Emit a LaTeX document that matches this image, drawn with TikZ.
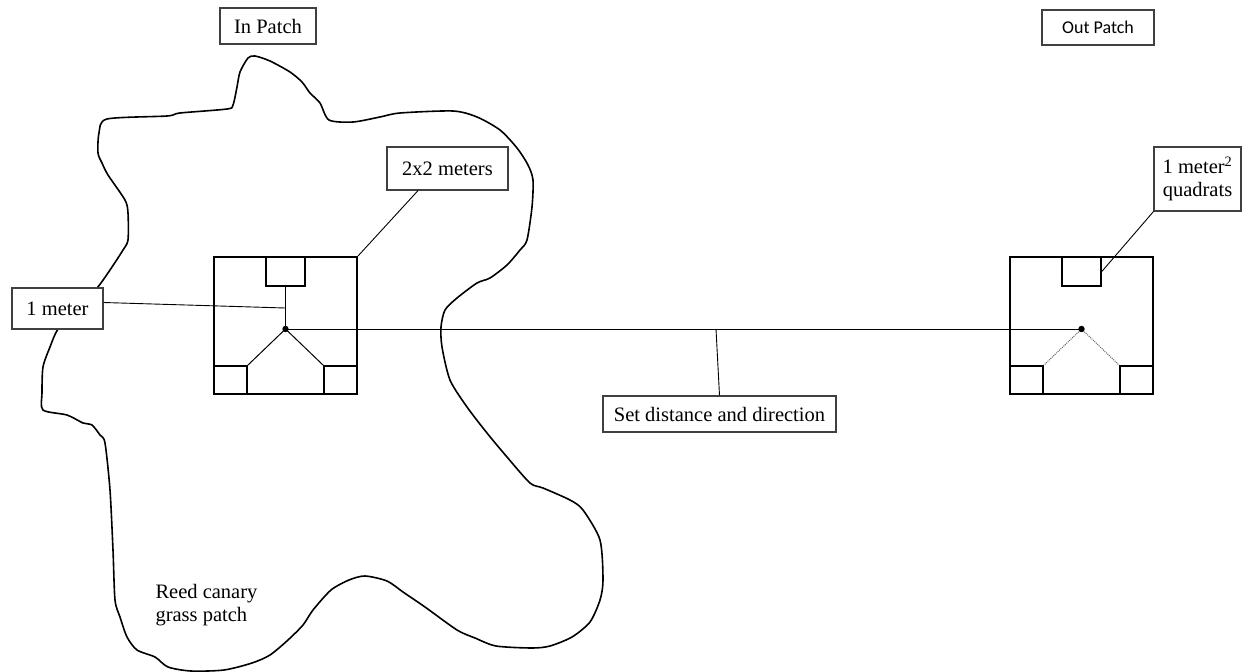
\documentclass[tikz,border=0pt]{standalone}
\usepackage{fontspec}
\setmainfont{Liberation Serif}
\newfontfamily\calibri{Carlito}
\usetikzlibrary{positioning}
\usetikzlibrary{calc}

\begin{document}
\begin{tikzpicture}[x=1pt,y=-1pt,font=\fontsize{20.5}{23}\selectfont,
  labelbox/.style={draw=black!75,line width=1.2pt,fill=white,inner sep=0pt},
  plotsq/.style={draw,line width=2pt,inner sep=0pt,minimum width=143pt,minimum height=137pt},
  quad/.style={draw,line width=1.8pt,inner sep=0pt,minimum width=33pt,minimum height=28pt},
  topquad/.style={quad,minimum width=39pt,minimum height=29pt},
  leader/.style={line width=0.9pt},
  spoke/.style={line width=1pt}]
\useasboundingbox (0,0) rectangle (1253,672);

\draw[line width=1.6pt] plot[smooth cycle,tension=0.45] coordinates {
  (107,119) (167,116) (180,113) (227,109) (233,105) (237,87) (240,72) (248,58) (255,56)
  (270,61) (290,72) (302,82) (310,93) (320,103) (329,120) (353,122) (380,117) (400,113)
  (453,111) (477,117) (500,130) (517,148) (528,165) (533,180) (532,207) (527,240)
  (520,250) (507,265) (490,278) (477,283) (457,298) (445,310) (441,327) (442,347)
  (450,380) (467,407) (487,433) (507,457) (530,483) (543,488) (570,500) (583,510)
  (600,540) (603,580) (600,600) (590,622) (572,637) (550,646) (532,648) (496,646)
  (475,638) (457,630) (425,607) (403,592) (387,581) (365,576) (349,580) (331,590)
  (313,610) (303,625) (288,640) (270,655) (252,663) (224,670) (191,671) (168,667)
  (155,657) (137,650) (127,637) (120,617) (115,600) (113,550) (110,490) (105,443)
  (100,435) (92,425) (83,423) (67,415) (43,410) (42,393) (43,367) (50,347) (58,329)
  (78,305) (97,288) (112,267) (123,250) (128,240) (128,213) (125,200) (108,175)
  (102,163) (98,153) (99,133)};

\node[plotsq] (insq) at (285.5,325.5) {};
\node[topquad,below=0pt of insq.north] (inq1) {};
\node[quad,above right=0pt of insq.south west] (inq2) {};
\node[quad,above left=0pt of insq.south east] (inq3) {};
\coordinate (inc) at (285.5,329);
\coordinate (stem) at (285.5,308);

\node[plotsq] (outsq) at (1081.5,325.5) {};
\node[topquad,below=0pt of outsq.north] (outq1) {};
\node[quad,above right=0pt of outsq.south west] (outq2) {};
\node[quad,above left=0pt of outsq.south east] (outq3) {};
\coordinate (outc) at (1081.5,329);
\coordinate (mid) at (716,329);

\draw[spoke] (inq1.south) -- (inc);
\draw[spoke] (inc) -- (inq2.north east);
\draw[spoke] (inc) -- (inq3.north west);
\draw[spoke,densely dotted,black!60] (outc) -- (outq2.north east);
\draw[spoke,densely dotted,black!60] (outc) -- (outq3.north west);
\draw[leader] (inc) -- (outc);
\fill (inc) circle (3.2pt);
\fill (outc) circle (3.2pt);

\node[labelbox,minimum width=96pt,minimum height=36pt] (inpatch) at (268,26) {In Patch};
\node[labelbox,font=\calibri\fontsize{18}{21}\selectfont,minimum width=112pt,minimum height=35pt] (outpatch) at (1098,27.5) {Out Patch};
\node[labelbox,minimum width=121pt,minimum height=43pt] (twobytwo) at (447.5,168.5) {2x2 meters};
\node[labelbox,minimum width=91pt,minimum height=41pt] (onemeter) at (57.5,308.5) {1 meter};
\node[labelbox,minimum width=87pt,minimum height=64pt,align=center] (quadrats) at (1197.5,179) {1 meter\textsuperscript{2}\\quadrats};
\node[labelbox,minimum width=233pt,minimum height=36pt] (setdist) at (719.5,414) {Set distance and direction};
\node[align=left,anchor=west] (reed) at (152,605) {Reed canary\\grass patch};

\draw[leader] ([yshift=6pt]onemeter.east) -- (stem);
\draw[leader] ([xshift=-29.5pt]twobytwo.south) -- (insq.north east);
\draw[leader] (quadrats.south west) -- (outq1.east);
\draw[leader] (setdist.north) -- (mid);
\end{tikzpicture}
\end{document}
